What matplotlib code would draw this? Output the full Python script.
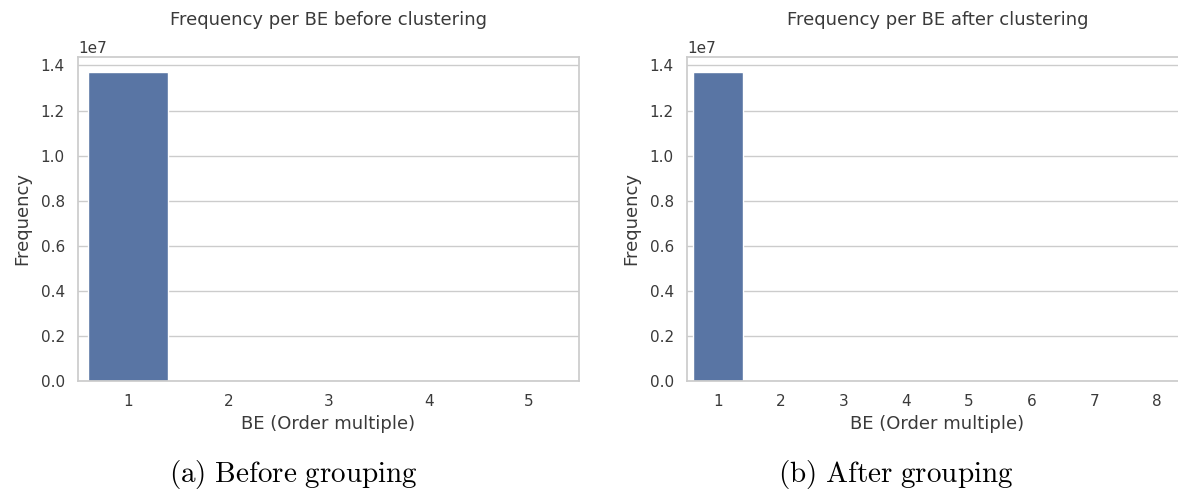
import matplotlib
matplotlib.use("Agg")
import matplotlib.pyplot as plt
import seaborn as sns

# data (counts per BE order multiple)
be_before = [1, 2, 3, 4, 5]
freq_before = [13690000, 8200, 950, 120, 18]

be_after = [1, 2, 3, 4, 5, 6, 7, 8]
freq_after = [13690000, 9100, 1400, 260, 70, 22, 9, 3]

titles = ["Frequency per BE before clustering", "Frequency per BE after clustering"]
captions = ["(a) Before grouping", "(b) After grouping"]

sns.set_theme(style="whitegrid")
plt.rcParams["mathtext.fontset"] = "cm"

bar_color = "#5975a4"

fig = plt.figure(figsize=(11.78, 4.93), dpi=100)
ax1 = fig.add_axes([0.0662, 0.2272, 0.4253, 0.6572])
ax2 = fig.add_axes([0.5832, 0.2272, 0.4253, 0.6572])


def draw(ax, cats, vals, title):
    pos = list(range(len(cats)))
    ax.bar(pos, vals, width=0.8, color=bar_color)
    ax.set_xticks(pos)
    ax.set_xticklabels([str(c) for c in cats])
    ax.set_xlim(-0.5, len(cats) - 0.5)
    ax.set_ylim(0, max(vals) * 1.05)
    ax.xaxis.grid(False)
    ax.set_title(title, fontsize=13, pad=23, color="#3a3a3a")
    ax.set_xlabel("BE (Order multiple)", fontsize=13, color="#3a3a3a")
    ax.set_ylabel("Frequency", fontsize=13, labelpad=7, color="#3a3a3a")
    ax.tick_params(labelsize=11, labelcolor="#3a3a3a")
    ax.yaxis.get_offset_text().set_fontsize(11)
    ax.yaxis.get_offset_text().set_color("#3a3a3a")


draw(ax1, be_before, freq_before, titles[0])
draw(ax2, be_after, freq_after, titles[1])

# subfigure captions in a LaTeX-like serif face
for x, cap in zip([293 / 1178, 896 / 1178], captions):
    fig.text(x, 1 - 482 / 493, r"$\mathrm{%s}$" % cap.replace(" ", r"\ "),
             ha="center", va="baseline", fontsize=21, color="black")

fig.savefig("out.png", dpi=100)
